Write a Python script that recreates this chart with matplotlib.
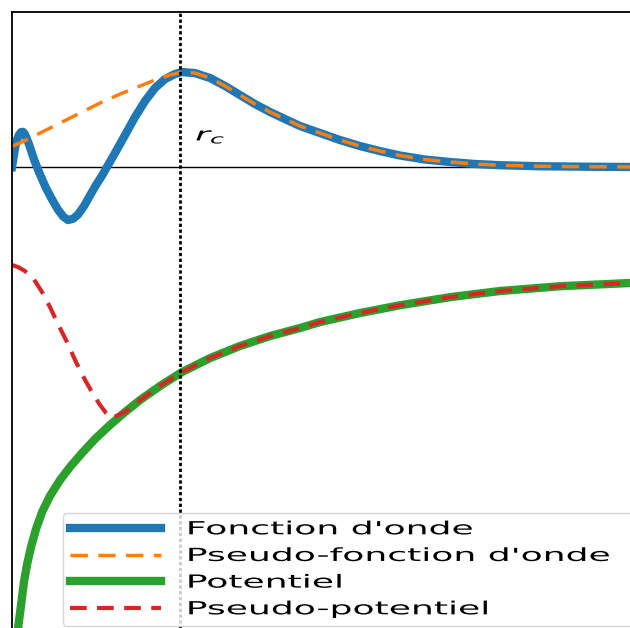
import matplotlib
matplotlib.use("Agg")
import matplotlib.pyplot as plt
from matplotlib import patheffects
from matplotlib.transforms import Affine2D

# r en unités de r_c
R_C = 1.0

# fonction d'onde (tous électrons)
r_onde = [0.0, 0.009, 0.018, 0.030, 0.042, 0.054, 0.065, 0.077, 0.101, 0.131,
          0.167, 0.202, 0.238, 0.274, 0.304, 0.333, 0.363, 0.393, 0.429,
          0.464, 0.500, 0.536, 0.565, 0.613, 0.673, 0.732, 0.792, 0.851,
          0.911, 0.970, 1.012, 1.089, 1.179, 1.268, 1.357, 1.446, 1.536,
          1.625, 1.714, 1.833, 1.952, 2.071, 2.190, 2.310, 2.458, 2.607,
          2.756, 2.905, 3.143, 3.440, 3.75]
psi_onde = [0.0, 0.10, 0.20, 0.29, 0.34, 0.368, 0.37, 0.345, 0.24, 0.08,
            -0.08, -0.22, -0.34, -0.45, -0.52, -0.558, -0.545, -0.50, -0.41,
            -0.30, -0.19, -0.09, 0.0, 0.147, 0.337, 0.526, 0.695, 0.832,
            0.926, 0.979, 1.0, 0.989, 0.937, 0.853, 0.758, 0.663, 0.579,
            0.505, 0.432, 0.358, 0.284, 0.221, 0.168, 0.121, 0.079, 0.053,
            0.032, 0.019, 0.008, 0.003, 0.0]

# pseudo-fonction d'onde : partie de coeur, puis identique au-delà de r_c
r_pseudo_coeur = [0.0, 0.048, 0.167, 0.286, 0.405, 0.524, 0.643, 0.762, 0.851, 0.940]
psi_pseudo_coeur = [0.22, 0.253, 0.358, 0.463, 0.568, 0.674, 0.768, 0.853, 0.916, 0.968]

# potentiel
r_pot = [0.024, 0.036, 0.054, 0.071, 0.089, 0.113, 0.143, 0.179, 0.226,
         0.286, 0.345, 0.417, 0.494, 0.583, 0.673, 0.762, 0.881, 1.012,
         1.179, 1.357, 1.536, 1.714, 1.833, 2.071, 2.310, 2.607, 2.905,
         3.262, 3.75]
v_pot = [-5.032, -4.853, -4.611, -4.368, -4.189, -4.0, -3.811, -3.632,
         -3.463, -3.295, -3.158, -3.011, -2.863, -2.716, -2.579, -2.453,
         -2.305, -2.158, -2.011, -1.884, -1.779, -1.695, -1.632, -1.537,
         -1.455, -1.37, -1.305, -1.255, -1.215]

# pseudo-potentiel : partie de coeur, puis identique au potentiel
r_ppot_coeur = [0.0, 0.036, 0.077, 0.125, 0.179, 0.226, 0.274, 0.327, 0.381,
                0.435, 0.482, 0.524, 0.560, 0.595]
v_ppot_coeur = [-1.032, -1.053, -1.095, -1.168, -1.316, -1.474, -1.653,
                -1.842, -2.053, -2.242, -2.389, -2.505, -2.589, -2.642]

labels = ["Fonction d'onde", "Pseudo-fonction d'onde", "Potentiel",
          "Pseudo-potentiel"]


class Etirement(patheffects.AbstractPathEffect):
    # étire le texte horizontalement (l'image d'origine est déformée)
    def __init__(self, sx):
        super().__init__()
        self.sx = sx

    def draw_path(self, renderer, gc, tpath, affine, rgbFace=None):
        renderer.draw_path(gc, tpath, Affine2D().scale(self.sx, 1) + affine,
                           rgbFace)


def main():
    fig = plt.figure(figsize=(6.3, 6.28), dpi=100)
    ax = fig.add_axes([12 / 630, (628 - 640) / 628, 630 / 630, 628 / 628])

    r_pseudo = r_pseudo_coeur + [r for r in r_onde if r >= R_C]
    psi_pseudo = psi_pseudo_coeur + [p for r, p in zip(r_onde, psi_onde) if r >= R_C]
    r_ppot = r_ppot_coeur + [r for r in r_pot if r >= 0.67]
    v_ppot = v_ppot_coeur + [v for r, v in zip(r_pot, v_pot) if r >= 0.67]

    ax.axhline(0, color="k", lw=1.0, zorder=1)
    ax.plot(r_onde, psi_onde, color="C0", lw=6, label=labels[0],
            solid_joinstyle="round")
    ax.plot(r_pseudo, psi_pseudo, color="C1", lw=2.5, dashes=(5, 3),
            label=labels[1])
    ax.plot(r_pot, v_pot, color="C2", lw=6, label=labels[2],
            solid_joinstyle="round")
    ax.plot(r_ppot, v_ppot, color="C3", lw=3, dashes=(4, 2.5), label=labels[3])
    ax.axvline(R_C, color="k", lw=2, ls=(0, (1.2, 0.9)))

    t = ax.text(1.09, 0.28, r"$r_c$", fontsize=13)
    t.set_path_effects([Etirement(2.0)])

    ax.set_xlim(0, 3.75)
    ax.set_ylim(-4.979, 1.632)
    ax.set_xticks([])
    ax.set_yticks([])
    for s in ax.spines.values():
        s.set_linewidth(1.3)

    leg = ax.legend(loc="upper left", bbox_to_anchor=(0.1, 0.183, 1.0, 0),
                    bbox_transform=fig.transFigure, mode="expand",
                    borderaxespad=0, fontsize=13, handlelength=5.0,
                    handletextpad=1.4, labelspacing=0.48)
    for txt in leg.get_texts():
        txt.set_path_effects([Etirement(2.0)])

    fig.savefig("out.png", dpi=100)
    plt.close(fig)


if __name__ == "__main__":
    main()
